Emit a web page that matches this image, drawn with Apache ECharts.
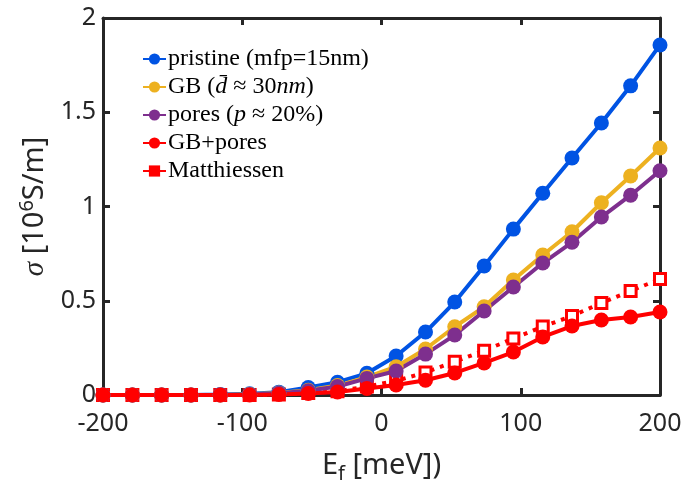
<!DOCTYPE html>
<html>
<head>
<meta charset="utf-8">
<script src="https://cdn.jsdelivr.net/npm/echarts@6/dist/echarts.min.js"></script>
<style>
    html, body {margin: 0; padding: 0; background: #fff;}
    #chart {width: 685px; height: 491px;}
</style>
</head>
<body>
<div id="chart"></div>
<script>
// Fermi energy, 20 points from -200 to 200 meV
const ef = [-200, -178.9, -157.9, -136.8, -115.8, -94.7, -73.7, -52.6, -31.6, -10.5,
    10.5, 31.6, 52.6, 73.7, 94.7, 115.8, 136.8, 157.9, 178.9, 200];

// conductivity [10^6 S/m]
const pristine = [0, 0, 0, 0, 0.002, 0.006, 0.015, 0.04, 0.068, 0.115,
    0.207, 0.334, 0.493, 0.684, 0.88, 1.07, 1.257, 1.443, 1.64, 1.857];
const gb = [0, 0, 0, 0, 0, 0.004, 0.01, 0.025, 0.05, 0.095,
    0.15, 0.244, 0.362, 0.468, 0.61, 0.743, 0.866, 1.02, 1.162, 1.31];
const pores = [0, 0, 0, 0, 0, 0.003, 0.009, 0.022, 0.045, 0.088,
    0.127, 0.217, 0.318, 0.446, 0.573, 0.70, 0.81, 0.944, 1.06, 1.19];
const gbPores = [0, 0, 0, 0, 0, 0, 0.003, 0.008, 0.016, 0.035,
    0.053, 0.078, 0.117, 0.17, 0.228, 0.308, 0.366, 0.398, 0.414, 0.44];
const matthiessen = [0, 0, 0, 0, 0, 0, 0.002, 0.01, 0.02, 0.045,
    0.075, 0.12, 0.177, 0.235, 0.30, 0.363, 0.419, 0.488, 0.552, 0.615];

const xTicks = [-200, -100, 0, 100, 200];
const yTicks = [0, 0.5, 1, 1.5, 2];

const legendText = {
    'pristine': 'pristine (mfp=15nm)',
    'GB': 'GB ({i|d\u0304} \u2248 30{i|nm})',
    'pores': 'pores ({i|p} \u2248 20%)',
    'GB+pores': 'GB+pores',
    'Matthiessen': 'Matthiessen'
};

const axisColor = '#262626';
const serif = 'Liberation Serif';
const sans = 'Noto Sans';

const chart = echarts.init(document.getElementById('chart'), null, {renderer: 'canvas'});

function pairs(ys) {
    return ef.map((x, i) => [x, ys[i]]);
}

function circleSeries(name, ys, color) {
    return {
        name: name,
        type: 'line',
        data: pairs(ys),
        symbol: 'circle',
        symbolSize: 15,
        showAllSymbol: true,
        clip: false,
        lineStyle: {width: 4, color: color},
        itemStyle: {color: color},
        emphasis: {disabled: true}
    };
}

const frame = {
    axisLine: {show: true, onZero: false, lineStyle: {color: axisColor, width: 3}},
    axisTick: {show: true, inside: true, length: 7, lineStyle: {color: axisColor, width: 3}},
    splitLine: {show: false}
};

chart.setOption({
    animation: false,
    backgroundColor: '#fff',
    grid: {left: 103, top: 18, right: 25, bottom: 96},
    legend: {
        orient: 'vertical',
        left: 137,
        top: 42,
        itemWidth: 23,
        itemHeight: 14,
        itemGap: 4,
        data: [
            {name: 'pristine'},
            {name: 'GB'},
            {name: 'pores'},
            {name: 'GB+pores'},
            {name: 'Matthiessen', itemStyle: {color: '#ff0000', borderWidth: 0}, lineStyle: {type: 'solid'}}
        ],
        formatter: name => legendText[name],
        textStyle: {
            fontFamily: serif,
            fontSize: 24,
            color: '#000',
            padding: [0, 0, 0, -3],
            rich: {
                i: {fontFamily: serif, fontStyle: 'italic', fontSize: 24, color: '#000'}
            }
        }
    },
    xAxis: [{
        type: 'value',
        min: -200,
        max: 200,
        interval: 100,
        position: 'bottom',
        name: '{a|E}{sub|f}{a| [meV])}',
        nameLocation: 'middle',
        nameGap: 53,
        nameTextStyle: {
            rich: {
                a: {fontFamily: sans, fontSize: 29, color: axisColor},
                sub: {fontFamily: sans, fontSize: 20, color: axisColor, padding: [16, 0, 0, 0]}
            }
        },
        axisLabel: {
            margin: 16,
            fontFamily: sans,
            fontSize: 25,
            color: axisColor,
            formatter: v => xTicks.includes(v) ? String(v) : ''
        },
        ...frame
    }, {
        type: 'value',
        min: -200,
        max: 200,
        interval: 100,
        position: 'top',
        axisLabel: {show: false},
        ...frame
    }],
    yAxis: [{
        type: 'value',
        min: 0,
        max: 2,
        interval: 0.5,
        position: 'left',
        name: '{s|\u03c3} [10{sup|6}S/m]',
        nameLocation: 'middle',
        nameGap: 50,
        nameTextStyle: {
            fontFamily: sans,
            fontSize: 29,
            color: axisColor,
            rich: {
                s: {fontFamily: serif, fontStyle: 'italic', fontSize: 29, color: axisColor},
                sup: {fontFamily: sans, fontSize: 20, color: axisColor, padding: [0, 0, 16, 0]}
            }
        },
        axisLabel: {
            margin: 7,
            fontFamily: sans,
            fontSize: 25,
            color: axisColor,
            formatter: v => yTicks.includes(v) ? String(v) : ''
        },
        ...frame
    }, {
        type: 'value',
        min: 0,
        max: 2,
        interval: 0.5,
        position: 'right',
        axisLabel: {show: false},
        ...frame
    }],
    series: [
        circleSeries('pristine', pristine, '#0053e3'),
        circleSeries('GB', gb, '#edb120'),
        circleSeries('pores', pores, '#7e2f8e'),
        circleSeries('GB+pores', gbPores, '#ff0000'),
        {
            name: 'Matthiessen',
            type: 'line',
            data: pairs(matthiessen),
            symbol: 'rect',
            symbolSize: 11,
            showAllSymbol: true,
            clip: false,
            z: 1,
            lineStyle: {width: 4, color: '#ff0000', type: [4, 6], cap: 'butt'},
            itemStyle: {color: '#fff', borderColor: '#ff0000', borderWidth: 3},
            emphasis: {disabled: true}
        }
    ]
});
</script>
</body>
</html>
